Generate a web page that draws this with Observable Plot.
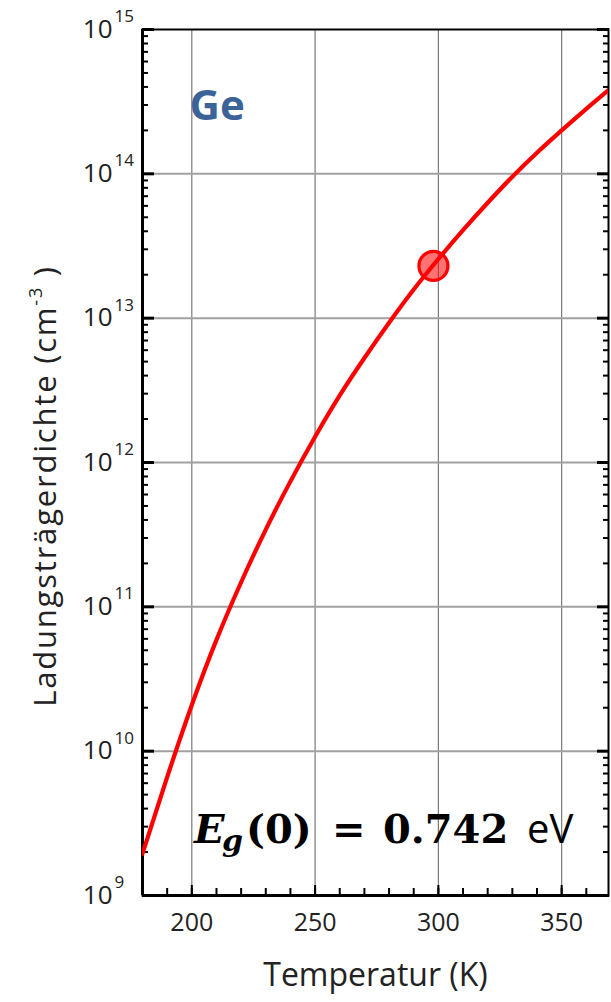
<!DOCTYPE html>
<html><head><meta charset="utf-8">
<script src="https://cdn.jsdelivr.net/npm/d3@7"></script>
<script src="https://cdn.jsdelivr.net/npm/@observablehq/plot@0.6"></script>
<style>body{margin:0;background:#fff;} svg{display:block}</style>
</head><body><div id="chart"></div>
<script>
// Data (temperature in K, carrier density in cm^-3)
const temperatures = [180, 190, 200, 210, 220, 230, 240, 250, 260, 270, 280, 290, 300, 310, 320, 330, 340, 350, 360, 369];
const densities   = [1.95e9, 6.6e9, 2.09e10, 5.9e10, 1.48e11, 3.43e11, 7.4e11, 1.51e12, 2.92e12, 5.3e12, 9.3e12, 1.58e13, 2.57e13, 4.07e13, 6.3e13, 9.55e13, 1.40e14, 2.0e14, 2.82e14, 3.8e14];
const markerT = [298];
const markerN = [2.3e13];
const xTickLabels = [200, 250, 300, 350];
const xMinorTicks = [190, 200, 210, 220, 230, 240, 250, 260, 270, 280, 290, 300, 310, 320, 330, 340, 350, 360];
const decadeExponents = [9, 10, 11, 12, 13, 14, 15];
const gridDecades = [1e10, 1e11, 1e12, 1e13, 1e14];
const minorMultipliers = [2, 3, 4, 5, 6, 7, 8, 9];
const materialLabel = "Ge";
const xLabel = "Temperatur (K)";
const yLabel = "Ladungsträgerdichte (cm";
const yLabelSup = "-3";

const curve = temperatures.map((t, i) => ({T: t, n: densities[i]}));
const marker = markerT.map((t, i) => ({T: t, n: markerN[i]}));
const decades = decadeExponents.map(e => ({e, v: Math.pow(10, e)}));
const minorY = [];
for (const e of decadeExponents.slice(0, -1)) for (const m of minorMultipliers) minorY.push(m * Math.pow(10, e));
const majorY = decades.map(d => d.v);

const font = "'Open Sans', sans-serif";
const tickOpts = {tickFormat: () => "", strokeWidth: 2, stroke: "#000", label: null};
const plot = Plot.plot({
  width: 611, height: 1002,
  marginLeft: 142, marginRight: 3, marginTop: 29, marginBottom: 107,
  style: {fontFamily: font, background: "#fff", overflow: "visible"},
  x: {domain: [180, 369], label: null},
  y: {type: "log", domain: [1e9, 1e15], label: null},
  marks: [
    Plot.ruleX(xTickLabels, {stroke: "#7a7a7a", strokeWidth: 1.2}),
    Plot.ruleY(gridDecades, {stroke: "#a0a0a0", strokeWidth: 2}),
    Plot.frame({stroke: "#000", strokeWidth: 2}),
    Plot.ruleX([180], {stroke: "#000", strokeWidth: 3}),
    Plot.ruleY([1e9], {stroke: "#000", strokeWidth: 3}),
    // inward ticks
    Plot.axisX({...tickOpts, ticks: xMinorTicks, tickSize: -7}),
    Plot.axisX({...tickOpts, ticks: xTickLabels, tickSize: -10}),
    Plot.axisY({...tickOpts, anchor: "left", ticks: minorY, tickSize: -6}),
    Plot.axisY({...tickOpts, anchor: "left", ticks: majorY, tickSize: -12, strokeWidth: 3}),
    Plot.axisY({...tickOpts, anchor: "right", ticks: minorY, tickSize: -6}),
    Plot.axisY({...tickOpts, anchor: "right", ticks: majorY, tickSize: -12, strokeWidth: 3}),
    // x tick labels
    Plot.text(xTickLabels, {x: d => d, frameAnchor: "bottom", dy: 27, text: d => String(d), fontSize: 25, fill: "#222", lineAnchor: "middle"}),
    // y tick labels: 10 with superscript exponent
    Plot.text(decades, {y: "v", frameAnchor: "left", dx: -30, text: () => "10", textAnchor: "end", fontSize: 26, fill: "#222", lineAnchor: "middle"}),
    Plot.text(decades, {y: "v", frameAnchor: "left", dx: -28, dy: -13, text: d => String(d.e), textAnchor: "start", fontSize: 17, fill: "#222", lineAnchor: "middle"}),
    // curve + marker
    Plot.line(curve, {x: "T", y: "n", stroke: "#ff0000", strokeWidth: 4.2, curve: "natural", clip: true}),
    Plot.dot(marker, {x: "T", y: "n", r: 14.5, fill: "#ff0000", fillOpacity: 0.55, stroke: "#ff0000", strokeWidth: 3.2}),
    // material label
    Plot.text([materialLabel], {frameAnchor: "top-left", dx: 47, dy: 90, text: d => d, fontSize: 42, fontWeight: "bold", fill: "#3b6397", textAnchor: "start", lineAnchor: "bottom"}),
    // x label
    Plot.text([xLabel], {frameAnchor: "bottom", dy: 80, text: d => d, fontSize: 32, fill: "#222", lineAnchor: "middle", style: "letter-spacing:2px"})
  ]
});
document.getElementById("chart").appendChild(plot);

const svg = d3.select(plot);
// y label with superscript
const yl = svg.append("text")
  .attr("transform", "translate(56,486) rotate(-90)")
  .attr("text-anchor", "middle")
  .attr("letter-spacing", "1.8px")
  .attr("font-family", font).attr("font-size", 31).attr("fill", "#222");
yl.append("tspan").text(yLabel);
yl.append("tspan").attr("dy", -14).attr("font-size", 18).text(yLabelSup);
yl.append("tspan").attr("dy", 14).text(" )");

// band-gap annotation
const serif = "'DejaVu Serif', 'Liberation Serif', serif";
const eq = svg.append("text").attr("y", 843).attr("fill", "#000").attr("text-anchor", "start")
  .attr("font-family", serif).attr("font-weight", "bold").attr("font-size", 40);
const part = (x, txt, extra = {}) => {
  const t = eq.append("tspan").attr("x", x).attr("y", extra.y ?? 843).text(txt);
  for (const [k, v] of Object.entries(extra)) if (k !== "y") t.attr(k, v);
  return t;
};
part(194, "E", {"font-style": "italic"});
part(222, "g", {"font-style": "italic", "font-size": 30, y: 851});
part(246, "(0)");
part(332, "=");
part(383, "0.742");
part(527, "eV", {"font-family": font, "font-weight": "normal"});
</script>
</body></html>
